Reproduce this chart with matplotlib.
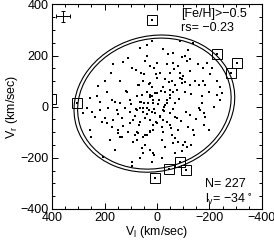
import matplotlib
matplotlib.use("Agg")
import matplotlib.pyplot as plt
import numpy as np
from matplotlib.patches import Ellipse
from matplotlib.ticker import MultipleLocator

plt.rcParams['font.family'] = ['Liberation Sans', 'DejaVu Sans']

# star velocities (V_l, V_r) in km/s
vl = [168, 130, 46, 27, 175, 80, 4, 225, 190, 114, 72, 53, 27, 57, 27, 0,
      255, 217, 171, 141, 103, 65, 38, 15, 267, 248, 217, 187, 152, 122, 103, 76,
      53, 19, 282, 236, 198, 168, 133, 91, 65, 27, 0, 255, 149, 133, 76, 46, 15,
      190, 171, 149, 141, 103, 84, 72, 53, 38, 27, 15, 76, 57, 53, 27, 15, 206,
      95, 95, 19,
      -23, -42, -88, -137, -61, -95, -114, -107, -38, -80, -126, -50, -156, -175,
      -88, -95, -107, -175, -202, -57, -69, -23, -31, -61, -50, -69, -38, -23,
      -171, -164, -183, -240, -248, -76, -23, -19,
      -50, -118, -80, -137, -23, -57, -69, -80, -107, -99, -61, -114, -31, -69,
      69, 38, 19, 27, 8, -8, 50, 65, 30, 8, -11, 46, -50, -69, -27, -38, -50,
      0, -11, 11, 50, 19, 65, 38, -65, -88, -95, -107, -126, -145, -160, -183,
      -190, -126, -229, -198, -217, -240, -179, -126, -160,
      -5, 12, -30, 40, 60, -60, 85, -85, 20, -15, 5, -40, 70, 100, -110, 30,
      -45, 120, -130, 150, -150, 90, -20, 45, -95, 10, 180, -200, 200, -210,
      110, -120, 0, 60, -30, 25, -55, 75, -75, 130, -140, 160, -170, 55, -10,
      35, -25, 15, -50, 80, -90, 110, -60, 40, -100, 140, -180, 210, -230, 230,
      95, -20, 65, -130, 160, 250,
      19, -229, -305, -282, 305, 8, -46, -88, -110]
vr = [168, 176, 180, 160, 133, 145, 129, 79, 56, 56, 83, 102, 91, 44, 44, 52,
      33, 17, 25, 13, 25, 17, -6, 13, -6, -21, -14, -6, -14, -6, -21, -14,
      -21, -21, -25, -40, -44, -52, -44, -52, -60, -52, -64, -91, -91, -118, -99, -110, -91,
      -64, -79, -102, -118, -64, -110, -102, -118, -110, -99, -72, -129, -160, -180, -168, -180, -195,
      -218, -230, -218,
      226, 207, 257, 249, 211, 195, 180, 199, 168, 160, 141, 133, 168, 153,
      133, 110, 95, 102, 129, 102, 83, 75, 56, 56, 33, 13, 13, -14,
      13, -14, -40, 75, 52, -44, -52, -79,
      -72, -79, -91, -91, -99, -110, -122, -137, -137, -149, -141, -157, -157, -180,
      83, 56, 75, 37, 52, 25, 13, -6, -14, -25, -40, -44, -25, -40, -2, 25, 64,
      114, 133, 153, 129, 257, 230, 199, 149, 114, 91, 56, 83, 102, 83, 83,
      172, 187, 44, 56, -2, 25, -25, -33, -6,
      10, -8, 5, -30, 20, -10, -35, 30, 40, 60, -60, -60, -70, 10, -20, 90,
      95, 60, 50, -30, -50, -140, -130, -150, -175, -190, -130, -90, 100, 150,
      190, 220, 170, 130, 110, -95, -85, 40, 65, -75, -110, 20, 40, -5, -35,
      15, -15, 25, 45, -10, -55, -100, 170, 240, 120, 100, -70, -60, 100, 40,
      150, -200, -200, -150, -170, -120,
      338, 207, 172, 133, 13, -280, -242, -218, -249]

# stars flagged with open squares
sq_vl = [19, -229, -305, -282, 305, 404, 8, -46, -88, -110]
sq_vr = [338, 207, 172, 133, 13, 30, -280, -242, -218, -249]

fig = plt.figure(figsize=(2.74, 2.43), dpi=100)
ax = fig.add_axes([0.19, 0.14, 0.766, 0.842])

ax.plot(vl, vr, 's', color='black', ms=1.9, mew=0)
ax.plot(sq_vl, sq_vr, 's', mfc='none', mec='black', ms=6.5, mew=0.7)

# velocity ellipses
for sc in [1.0, 0.955]:
    e = Ellipse((10, 12), 2 * 310 * sc, 2 * 264 * sc, angle=-17,
                fill=False, lw=0.8, color='black')
    ax.add_patch(e)

# typical error bar
ax.errorbar([358], [354], xerr=[26], yerr=[22], color='black', lw=0.7,
            capsize=1.2, capthick=0.7)

ax.set_xlim(400, -400)
ax.set_ylim(-400, 400)
ax.xaxis.set_major_locator(MultipleLocator(200))
ax.yaxis.set_major_locator(MultipleLocator(200))
ax.xaxis.set_minor_locator(MultipleLocator(50))
ax.yaxis.set_minor_locator(MultipleLocator(50))
ax.tick_params(which='both', direction='in', top=True, right=True,
               labelsize=9, width=0.7)
ax.tick_params(which='major', length=4.5, pad=2.5)
ax.tick_params(which='minor', length=2.5)
for s in ax.spines.values():
    s.set_linewidth(0.8)

ax.set_xlabel(r'V$_\mathregular{l}$ (km/sec)', fontsize=9, labelpad=0)
ax.set_ylabel(r'V$_\mathregular{r}$ (km/sec)', fontsize=9, labelpad=0)

ax.text(0.614, 0.952, '[Fe/H]>\u22120.5', transform=ax.transAxes,
        fontsize=9, va='center', ha='left')
ax.text(0.614, 0.884, 'rs= \u22120.23', transform=ax.transAxes,
        fontsize=9, va='center', ha='left')
ax.text(0.729, 0.121, 'N= 227', transform=ax.transAxes,
        fontsize=9, va='center', ha='left')
ax.text(0.729, 0.045, 'l$_\\mathregular{v}$= \u221234$^\\circ$',
        transform=ax.transAxes, fontsize=9, va='center', ha='left')

fig.savefig('out.png', dpi=100)
